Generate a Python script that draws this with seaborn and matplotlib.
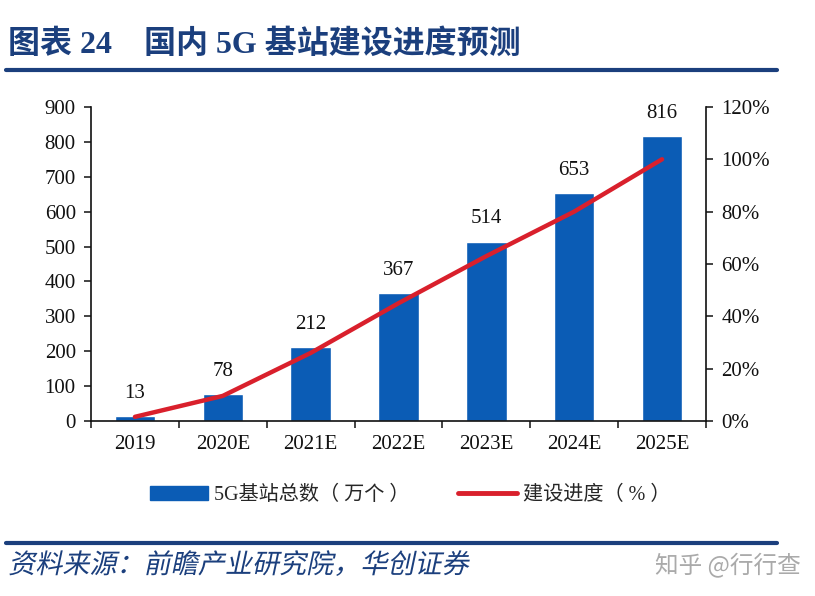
import matplotlib
matplotlib.use("Agg")
import matplotlib.pyplot as plt
import seaborn as sns
import pandas as pd
from matplotlib.lines import Line2D
from matplotlib.patches import Patch
from matplotlib.ticker import FuncFormatter, FixedLocator
from matplotlib.patheffects import AbstractPathEffect
from matplotlib.transforms import Affine2D

categories = ["2019", "2020E", "2021E", "2022E", "2023E", "2024E", "2025E"]
stations = [13, 78, 212, 367, 514, 653, 816]
progress = [1.6, 9.6, 26.0, 45.0, 63.0, 80.0, 100.0]

sns.set_style("white")
SERIF = ["Liberation Serif", "Noto Sans CJK SC"]
CJK = ["Noto Sans CJK SC", "DejaVu Sans"]
plt.rcParams["font.family"] = SERIF
plt.rcParams["axes.unicode_minus"] = False

BAR = "#0B5CB5"
RED = "#D9202C"
NAVY = "#1B3F7D"


class Slant(AbstractPathEffect):
    def __init__(self, deg=12):
        super().__init__()
        self.deg = deg

    def draw_path(self, renderer, gc, tpath, affine, rgbFace=None):
        renderer.draw_path(gc, tpath, Affine2D().skew_deg(self.deg, 0) + affine, rgbFace)


df = pd.DataFrame({"cat": categories, "val": stations, "pct": progress})

fig = plt.figure(figsize=(8.15, 5.96), dpi=100)
ax = fig.add_axes([0.1117, 0.2936, 0.7545, 0.527])
sns.barplot(data=df, x="cat", y="val", color=BAR, width=0.46, ax=ax,
            saturation=1, order=categories)
ax.set_ylim(0, 900)
ax.set_xlim(-0.5, 6.5)
ax.set_yticks(range(0, 901, 100))
ax.set_xlabel("")
ax.set_ylabel("")
for i, v in enumerate(stations):
    ax.text(i, v + 38, str(v), ha="center", va="bottom", fontsize=15,
            family=SERIF, color="#111111")

ax2 = ax.twinx()
sns.lineplot(x=list(range(len(categories))), y=progress, color=RED,
             linewidth=3.2, ax=ax2, sort=False)
ax2.set_ylim(0, 120)
ax2.set_yticks(range(0, 121, 20))
ax2.yaxis.set_major_formatter(FuncFormatter(lambda v, p: f"{int(v)}%"))
ax.set_xlim(-0.5, 6.5)

for a in (ax, ax2):
    a.spines["top"].set_visible(False)
    a.tick_params(labelsize=15, colors="#111111")
ax.spines["right"].set_visible(False)
ax2.spines["left"].set_visible(False)
ax2.spines["bottom"].set_visible(False)
for sp in (ax.spines["left"], ax.spines["bottom"], ax2.spines["right"]):
    sp.set_color("#111111")
    sp.set_linewidth(1.2)

ax.tick_params(axis="y", direction="out", length=5, width=1.1, left=True, pad=6)
ax2.tick_params(axis="y", direction="out", length=5, width=1.1, right=True, pad=6)
ax.xaxis.set_major_locator(FixedLocator([i - 0.5 for i in range(8)]))
ax.xaxis.set_minor_locator(FixedLocator(list(range(7))))
ax.set_xticklabels([""] * 8)
ax.set_xticklabels(categories, minor=True)
ax.tick_params(axis="x", which="major", direction="out", length=5, width=1.1, bottom=True)
ax.tick_params(axis="x", which="minor", length=0, labelsize=15, pad=10, colors="#111111")

handles = [Patch(facecolor=BAR, edgecolor=BAR, label="5G基站总数（ 万个 ）"),
           Line2D([0], [0], color=RED, linewidth=3.5, label="建设进度（ % ）")]
leg = fig.legend(handles=handles, loc="center", bbox_to_anchor=(0.503, 0.168), ncol=2,
                 frameon=False, prop={"family": SERIF, "size": 14.5},
                 handlelength=2.9, handleheight=0.7, columnspacing=2.4, handletextpad=0.3)

fig.text(0.01, 0.925, "图表 24    国内 5G 基站建设进度预测", fontsize=23, fontweight="bold",
         color=NAVY, family=SERIF, ha="left", va="center")
fig.add_artist(Line2D([0.007, 0.953], [0.882, 0.882], color=NAVY, linewidth=3,
                      transform=fig.transFigure))
fig.add_artist(Line2D([0.007, 0.953], [0.089, 0.089], color=NAVY, linewidth=3,
                      transform=fig.transFigure))
fig.text(0.01, 0.051, "资料来源：前瞻产业研究院，华创证券", fontsize=19.5,
         color=NAVY, family=CJK, ha="left", va="center", path_effects=[Slant(12)])
fig.text(0.982, 0.051, "知乎 @行行查", fontsize=17, color="#AAAAAA", family=CJK,
         ha="right", va="center")

fig.savefig("out.png", dpi=100)
